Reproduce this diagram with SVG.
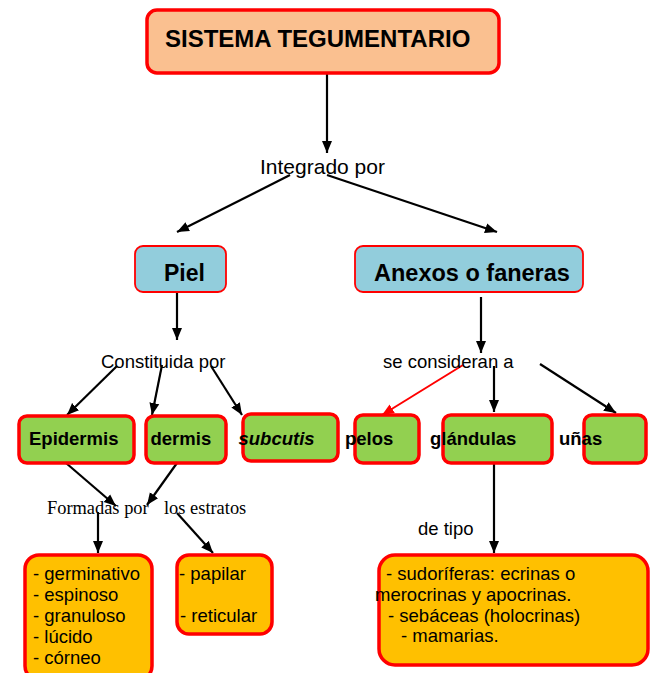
<svg xmlns="http://www.w3.org/2000/svg" width="655" height="673" viewBox="0 0 655 673">
<style>
.box{stroke:#FF0000;stroke-width:3.5}
.thin{stroke:#FF0000;stroke-width:1.8}
.peach{fill:#FAC090}
.blue{fill:#92CDDC}
.green{fill:#92D050}
.orange{fill:#FFC000}
.b{font-family:"Liberation Sans",Arial,sans-serif;font-weight:bold;fill:#000}
.t{font-family:"Liberation Sans",Arial,sans-serif;fill:#000}
.s{font-family:"Liberation Serif","Times New Roman",serif;fill:#000}
.c{stroke:#000;stroke-width:2.2;fill:none}
.cr{stroke:#FF0000;stroke-width:2;fill:none}
</style>
<defs>
<marker id="ah" markerUnits="userSpaceOnUse" markerWidth="12" markerHeight="12" viewBox="0 0 12 12" refX="12" refY="6" orient="auto">
<path d="M0,1 L12,6 L0,11 z" fill="#000"/>
</marker>
<marker id="ahr" markerUnits="userSpaceOnUse" markerWidth="12" markerHeight="12" viewBox="0 0 12 12" refX="12" refY="6" orient="auto">
<path d="M0,1 L12,6 L0,11 z" fill="#FF0000"/>
</marker>
</defs>
<rect width="655" height="673" fill="#fff"/>

<g id="connectors">
<line class="c" x1="327" y1="74" x2="327" y2="153" marker-end="url(#ah)"/>
<line class="c" x1="290" y1="175" x2="177" y2="232" marker-end="url(#ah)"/>
<line class="c" x1="327" y1="175" x2="497" y2="232" marker-end="url(#ah)"/>
<line class="c" x1="177" y1="293" x2="177" y2="340" marker-end="url(#ah)"/>
<line class="c" x1="117" y1="366" x2="67" y2="415" marker-end="url(#ah)"/>
<line class="c" x1="162" y1="365" x2="152" y2="415" marker-end="url(#ah)"/>
<line class="c" x1="211" y1="366" x2="242" y2="415" marker-end="url(#ah)"/>
<line class="c" x1="481" y1="297" x2="481" y2="353" marker-end="url(#ah)"/>
<line class="cr" x1="463" y1="365" x2="382" y2="415" marker-end="url(#ahr)"/>
<line class="c" x1="494" y1="366" x2="494" y2="412" marker-end="url(#ah)"/>
<line class="c" x1="540" y1="364" x2="616" y2="413" marker-end="url(#ah)"/>
<line class="c" x1="66" y1="463" x2="116" y2="506" marker-end="url(#ah)"/>
<line class="c" x1="177" y1="463" x2="147" y2="505" marker-end="url(#ah)"/>
<line class="c" x1="98" y1="512" x2="98" y2="553" marker-end="url(#ah)"/>
<line class="c" x1="177" y1="513" x2="213" y2="553" marker-end="url(#ah)"/>
<line class="c" x1="494" y1="463" x2="494" y2="553" marker-end="url(#ah)"/>
</g>

<g id="lbl-integrado"><text class="t" x="260" y="174" font-size="21">Integrado por</text></g>
<g id="lbl-constituida"><text class="t" x="101" y="368" font-size="18.5">Constituida por</text></g>
<g id="lbl-consideran"><text class="t" x="383" y="368" font-size="18.5">se consideran a</text></g>
<g id="lbl-formadas"><text class="s" x="47" y="514" font-size="18.4">Formadas por</text></g>
<g id="lbl-estratos"><text class="s" x="164" y="514" font-size="18.4">los estratos</text></g>
<g id="lbl-tipo"><text class="t" x="418" y="535" font-size="18.5">de tipo</text></g>

<g id="n-sistema">
<rect class="box peach" x="147" y="10" width="352" height="63" rx="10"/>
<text class="b" x="165" y="47" font-size="24">SISTEMA TEGUMENTARIO</text>
</g>
<g id="n-piel">
<rect class="thin blue" x="135" y="246" width="91" height="46" rx="8"/>
<text class="b" x="164" y="281" font-size="23">Piel</text>
</g>
<g id="n-anexos">
<rect class="thin blue" x="355" y="246" width="228" height="46" rx="8"/>
<text class="b" x="374" y="281" font-size="23.5">Anexos o faneras</text>
</g>
<g id="n-epidermis">
<rect class="box green" x="19" y="416" width="115" height="47" rx="8"/>
<text class="b" x="29" y="445" font-size="18.5">Epidermis</text>
</g>
<g id="n-dermis">
<rect class="box green" x="146" y="416" width="80" height="47" rx="8"/>
<text class="b" x="150.5" y="445" font-size="18.5">dermis</text>
</g>
<g id="n-subcutis">
<rect class="box green" x="243" y="414" width="95" height="47" rx="8"/>
<text class="b" x="238.5" y="445" font-size="18.5" font-style="italic">subcutis</text>
</g>
<g id="n-pelos">
<rect class="box green" x="355" y="415" width="64" height="48" rx="8"/>
<text class="b" x="345" y="445" font-size="18.5">pelos</text>
</g>
<g id="n-glandulas">
<rect class="box green" x="443" y="415" width="109" height="48" rx="8"/>
<text class="b" x="430" y="445" font-size="18.5">glándulas</text>
</g>
<g id="n-unas">
<rect class="box green" x="584" y="415" width="62" height="48" rx="8"/>
<text class="b" x="559" y="445" font-size="18.5">uñas</text>
</g>
<g id="n-estratos-epidermis">
<rect class="box orange" x="25" y="555" width="127" height="125" rx="14"/>
<text class="t" font-size="18.5">
<tspan x="33" y="580">- germinativo</tspan>
<tspan x="33" y="601">- espinoso</tspan>
<tspan x="33" y="622">- granuloso</tspan>
<tspan x="33" y="643">- lúcido</tspan>
<tspan x="33" y="664">- córneo</tspan>
</text>
</g>
<g id="n-estratos-dermis">
<rect class="box orange" x="177" y="555" width="95" height="79" rx="12"/>
<text class="t" font-size="18.5">
<tspan x="179" y="580">- papilar</tspan>
<tspan x="180" y="622">- reticular</tspan>
</text>
</g>
<g id="n-tipos-glandulas">
<rect class="box orange" x="379" y="555" width="269" height="110" rx="16"/>
<text class="t" font-size="18.5">
<tspan x="386" y="580">- sudoríferas: ecrinas o</tspan>
<tspan x="375" y="601">merocrinas y apocrinas.</tspan>
<tspan x="388" y="622">- sebáceas (holocrinas)</tspan>
<tspan x="401" y="642">- mamarias.</tspan>
</text>
</g>
</svg>
